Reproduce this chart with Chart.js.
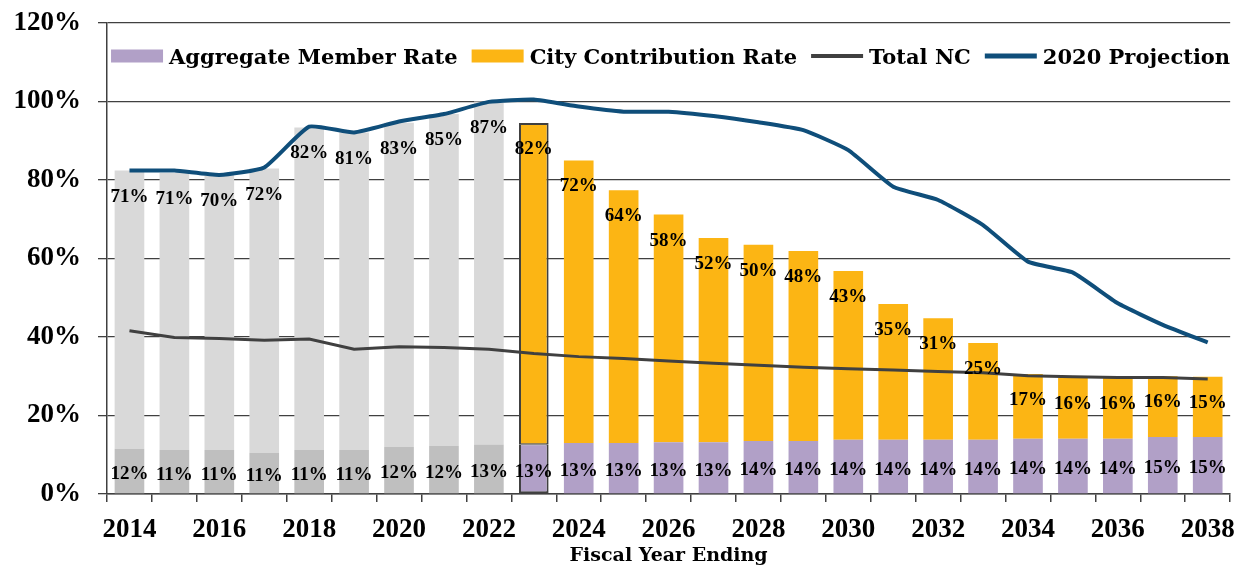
<!DOCTYPE html>
<html>
<head>
<meta charset="utf-8">
<script src="https://cdn.jsdelivr.net/npm/chart.js@4.4.1/dist/chart.umd.min.js"></script>
<style>
html, body { margin: 0; padding: 0; background: #fff; }
#wrap { width: 1247px; height: 567px; }
</style>
</head>
<body>
<div id="wrap"><canvas id="chart"></canvas></div>
<script>
var years = ["2014", "2015", "2016", "2017", "2018", "2019", "2020", "2021", "2022", "2023",
    "2024", "2025", "2026", "2027", "2028", "2029", "2030", "2031", "2032", "2033",
    "2034", "2035", "2036", "2037", "2038"];
var memberRate = [11.5, 11.2, 11.2, 10.5, 11.2, 11.2, 12.0, 12.2, 12.6, 12.7,
    13.0, 13.0, 13.2, 13.2, 13.5, 13.5, 13.8, 13.8, 13.8, 13.8,
    14.1, 14.1, 14.1, 14.5, 14.5];
var cityRate = [70.9, 70.6, 70.1, 72.4, 82.2, 80.9, 82.6, 84.6, 87.4, 81.8,
    72.0, 64.4, 58.0, 52.0, 50.0, 48.4, 43.0, 34.6, 31.0, 24.7,
    16.5, 15.5, 15.5, 15.5, 15.4];
var totalNC = [41.6, 39.9, 39.6, 39.2, 39.5, 36.9, 37.5, 37.3, 36.9, 35.8,
    35.0, 34.5, 33.9, 33.3, 32.8, 32.3, 31.9, 31.6, 31.2, 30.9,
    30.1, 29.9, 29.7, 29.7, 29.3];
var projection2020 = [82.4, 82.4, 81.3, 83.2, 93.6, 92.1, 94.9, 96.8, 99.9, 100.5,
    98.7, 97.4, 97.4, 96.3, 94.7, 92.7, 87.6, 78.3, 74.9, 68.5,
    59.2, 56.4, 48.6, 43.1, 38.6];
var firstProjection = 9; // 2023 is the first projected year, outlined
var yTicks = [0, 20, 40, 60, 80, 100, 120];

var tickFont = { family: "Liberation Serif", size: 27, weight: "bold" };
var serif = "\"Liberation Serif\"";

function split(values, projected) {
    return values.map(function (v, i) {
        return (i >= firstProjection) === projected ? v : null;
    });
}
function outline(side) {
    return years.map(function (y, i) {
        if (i !== firstProjection) return 0;
        return side === "member" ? { top: 1, left: 2, right: 2, bottom: 2 } : { top: 2, left: 2, right: 2, bottom: 1 };
    });
}

var barLabels = {
    id: "barLabels",
    afterDatasetsDraw: function (chart) {
        var ctx = chart.ctx;
        ctx.save();
        ctx.font = "bold 19px " + serif;
        ctx.fillStyle = "#000";
        ctx.textAlign = "center";
        ctx.textBaseline = "alphabetic";
        chart.data.datasets.forEach(function (ds, di) {
            if (!ds.part) return;
            var meta = chart.getDatasetMeta(di);
            meta.data.forEach(function (bar, i) {
                var v = ds.data[i];
                if (v === null) return;
                var y = ds.part === "member" ? (bar.y + bar.base) / 2 + 8 : bar.y + 31;
                ctx.fillText(Math.round(v) + "%", bar.x, y);
            });
        });
        ctx.restore();
    }
};

var legendInPlot = {
    id: "legendInPlot",
    afterDraw: function (chart) {
        var ctx = chart.ctx, area = chart.chartArea;
        var items = chart.data.datasets.filter(function (d) { return d.inLegend; });
        var symW = 52, gapIn = 6, gapOut = 14, y = 56;
        ctx.save();
        ctx.font = "bold 21px \"DejaVu Serif\"";
        var total = 0;
        items.forEach(function (d, i) {
            total += symW + gapIn + ctx.measureText(d.label).width + (i < items.length - 1 ? gapOut : 0);
        });
        var x = (area.left + area.right) / 2 - total / 2 + 2;
        items.forEach(function (d) {
            if (d.type === "line") {
                ctx.strokeStyle = d.borderColor;
                ctx.lineWidth = d.borderWidth + 1;
                ctx.beginPath();
                ctx.moveTo(x, y);
                ctx.lineTo(x + symW, y);
                ctx.stroke();
            } else {
                ctx.fillStyle = d.legendColor;
                ctx.fillRect(x, y - 6.5, symW, 13);
            }
            x += symW + gapIn;
            ctx.fillStyle = "#000";
            ctx.textBaseline = "alphabetic";
            ctx.fillText(d.label, x, y + 7.5);
            x += ctx.measureText(d.label).width + gapOut;
        });
        ctx.restore();
    }
};

var ctx = document.getElementById("chart").getContext("2d");
var myChart = new Chart(ctx, {
    data: {
        labels: years,
        datasets: [
            {
                type: "bar", label: "Member (actual)", part: "member",
                data: split(memberRate, false), backgroundColor: "#bfbfbf", order: 1
            },
            {
                type: "bar", label: "Aggregate Member Rate", part: "member", inLegend: true,
                data: split(memberRate, true), backgroundColor: "#b1a0c7", legendColor: "#b1a0c7",
                borderColor: "#404040", borderWidth: outline("member"), borderSkipped: false, order: 1
            },
            {
                type: "bar", label: "City (actual)", part: "city",
                data: split(cityRate, false), backgroundColor: "#d9d9d9", order: 1
            },
            {
                type: "bar", label: "City Contribution Rate", part: "city", inLegend: true,
                data: split(cityRate, true), backgroundColor: "#fcb514", legendColor: "#fcb514",
                borderColor: "#404040", borderWidth: outline("city"), borderSkipped: false, order: 1
            },
            {
                type: "line", label: "Total NC", inLegend: true, stack: "nc",
                data: totalNC, borderColor: "#404040", borderWidth: 3,
                pointRadius: 0, tension: 0, order: 0
            },
            {
                type: "line", label: "2020 Projection", inLegend: true, stack: "proj",
                data: projection2020, borderColor: "#0f4e7a", borderWidth: 4,
                pointRadius: 0, tension: 0.15, borderJoinStyle: "round", order: 0
            }
        ]
    },
    options: {
        responsive: true,
        maintainAspectRatio: false,
        animation: false,
        devicePixelRatio: 1,
        layout: { padding: { top: 23, right: 15, left: 0, bottom: 0 } },
        datasets: { bar: { barPercentage: 0.66, categoryPercentage: 1 } },
        plugins: {
            legend: { display: false },
            tooltip: { enabled: false }
        },
        scales: {
            x: {
                stacked: true,
                offset: true,
                border: { color: "#404040", width: 1.5 },
                grid: { offset: true, drawOnChartArea: false, drawTicks: true, tickLength: 8, color: "#404040", lineWidth: 1.5 },
                ticks: {
                    autoSkip: false, maxRotation: 0, padding: 12,
                    color: "#000", font: tickFont,
                    callback: function (v, i) { return i % 2 === 0 ? years[i] : ""; }
                },
                title: {
                    display: true, text: "Fiscal Year Ending", color: "#000",
                    font: { family: "DejaVu Serif", size: 19, weight: "bold" },
                    padding: { top: 0, bottom: 0 }
                },
                afterFit: function (scale) { scale.height = 73; }
            },
            y: {
                stacked: true,
                min: 0, max: 120,
                border: { color: "#404040", width: 1.5 },
                grid: { color: "#404040", lineWidth: 1.3, tickLength: 9 },
                afterBuildTicks: function (scale) {
                    scale.ticks = yTicks.map(function (v) { return { value: v }; });
                },
                ticks: {
                    padding: 17, color: "#000", font: tickFont,
                    callback: function (v) { return v + "%"; }
                },
                afterFit: function (scale) {
                    scale.width = 107;
                    scale.paddingTop = 0;
                    scale.paddingBottom = 0;
                }
            }
        }
    },
    plugins: [barLabels, legendInPlot]
});
</script>
</body>
</html>
